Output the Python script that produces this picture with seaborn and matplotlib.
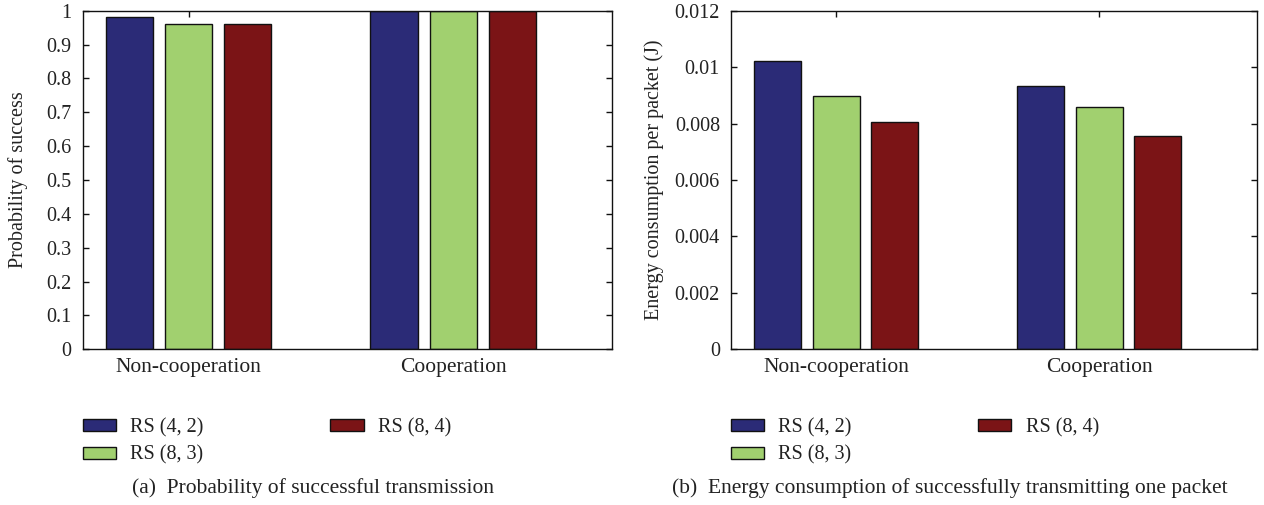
import matplotlib
matplotlib.use("Agg")
import matplotlib.pyplot as plt
import matplotlib.ticker as mticker
from matplotlib.patches import Patch
import seaborn as sns
import pandas as pd

# ---- data ----
categories = ["Non-cooperation", "Cooperation"]
series = ["RS (4, 2)", "RS (8, 3)", "RS (8, 4)"]
prob_rs42 = [0.98, 1.0]
prob_rs83 = [0.96, 1.0]
prob_rs84 = [0.96, 1.0]
energy_rs42 = [0.01023, 0.00934]
energy_rs83 = [0.00899, 0.00857]
energy_rs84 = [0.00804, 0.00756]
prob_ticks = [0, 0.1, 0.2, 0.3, 0.4, 0.5, 0.6, 0.7, 0.8, 0.9, 1.0]
prob_ticklabels = ["0", "0.1", "0.2", "0.3", "0.4", "0.5", "0.6", "0.7", "0.8", "0.9", "1"]
energy_ticks = [0, 0.002, 0.004, 0.006, 0.008, 0.010, 0.012]
energy_ticklabels = ["0", "0.002", "0.004", "0.006", "0.008", "0.01", "0.012"]
colors = ["#2b2b77", "#a1d06f", "#7b1416"]

sns.set_style("ticks")
plt.rcParams["font.family"] = ["Liberation Serif", "DejaVu Serif"]
FS = 14.5
XFS = 15.5
TXT = "#222222"


def long_df(vals):
    rows = []
    for s, v in zip(series, vals):
        for c, y in zip(categories, v):
            rows.append({"cat": c, "series": s, "val": y})
    return pd.DataFrame(rows)


fig = plt.figure(figsize=(12.64, 5.05), dpi=100)
axL = fig.add_axes([82.7 / 1264, 1 - 349.3 / 505, 529.3 / 1264, 338.6 / 505])
axR = fig.add_axes([731 / 1264, 1 - 349.3 / 505, 526 / 1264, 338.6 / 505])

panels = [
    (axL, long_df([prob_rs42, prob_rs83, prob_rs84]), (0, 1), prob_ticks, prob_ticklabels,
     "Probability of success", -0.103),
    (axR, long_df([energy_rs42, energy_rs83, energy_rs84]), (0, 0.012), energy_ticks, energy_ticklabels,
     "Energy consumption per packet (J)", -0.127),
]

for ax, df, ylim, yt, ytl, ylabel, lx in panels:
    sns.barplot(data=df, x="cat", y="val", hue="series", order=categories, hue_order=series,
                palette=colors, width=0.67, gap=0.2, ax=ax, edgecolor="#111111",
                linewidth=1.0, saturation=1, legend=False, errorbar=None)
    ax.set_xlim(-0.4, 1.6)
    ax.set_ylim(*ylim)
    ax.set_yticks(yt)
    ax.yaxis.set_major_formatter(mticker.FixedFormatter(ytl))
    ax.set_xlabel("")
    ax.set_ylabel(ylabel, fontsize=FS, color=TXT)
    ax.yaxis.set_label_coords(lx, 0.5)
    ax.tick_params(direction="in", top=True, right=True, length=4, width=1,
                   labelsize=FS, labelcolor=TXT, color="#111111")
    ax.tick_params(axis="x", pad=6, labelsize=XFS)
    ax.tick_params(axis="y", pad=8)
    for sp in ax.spines.values():
        sp.set_visible(True)
        sp.set_linewidth(1.0)
        sp.set_color("#111111")

handles = [Patch(facecolor=c, edgecolor="#111111", linewidth=1.0) for c in colors]
for x0 in (82.7, 730.6):
    fig.legend(handles, series, loc="upper left", bbox_to_anchor=(x0 / 1264, 1 - 418 / 505),
               ncol=2, frameon=False, fontsize=FS, handlelength=1.65, handleheight=0.55,
               handletextpad=0.7, columnspacing=6.3, labelspacing=0.42,
               borderpad=0, borderaxespad=0, labelcolor=TXT)

fig.text(313 / 1264, 1 - 488 / 505, "(a)  Probability of successful transmission",
         ha="center", va="center", fontsize=XFS, color=TXT)
fig.text(950 / 1264, 1 - 488 / 505, "(b)  Energy consumption of successfully transmitting one packet",
         ha="center", va="center", fontsize=XFS, color=TXT)

fig.savefig("out.png", dpi=100)
